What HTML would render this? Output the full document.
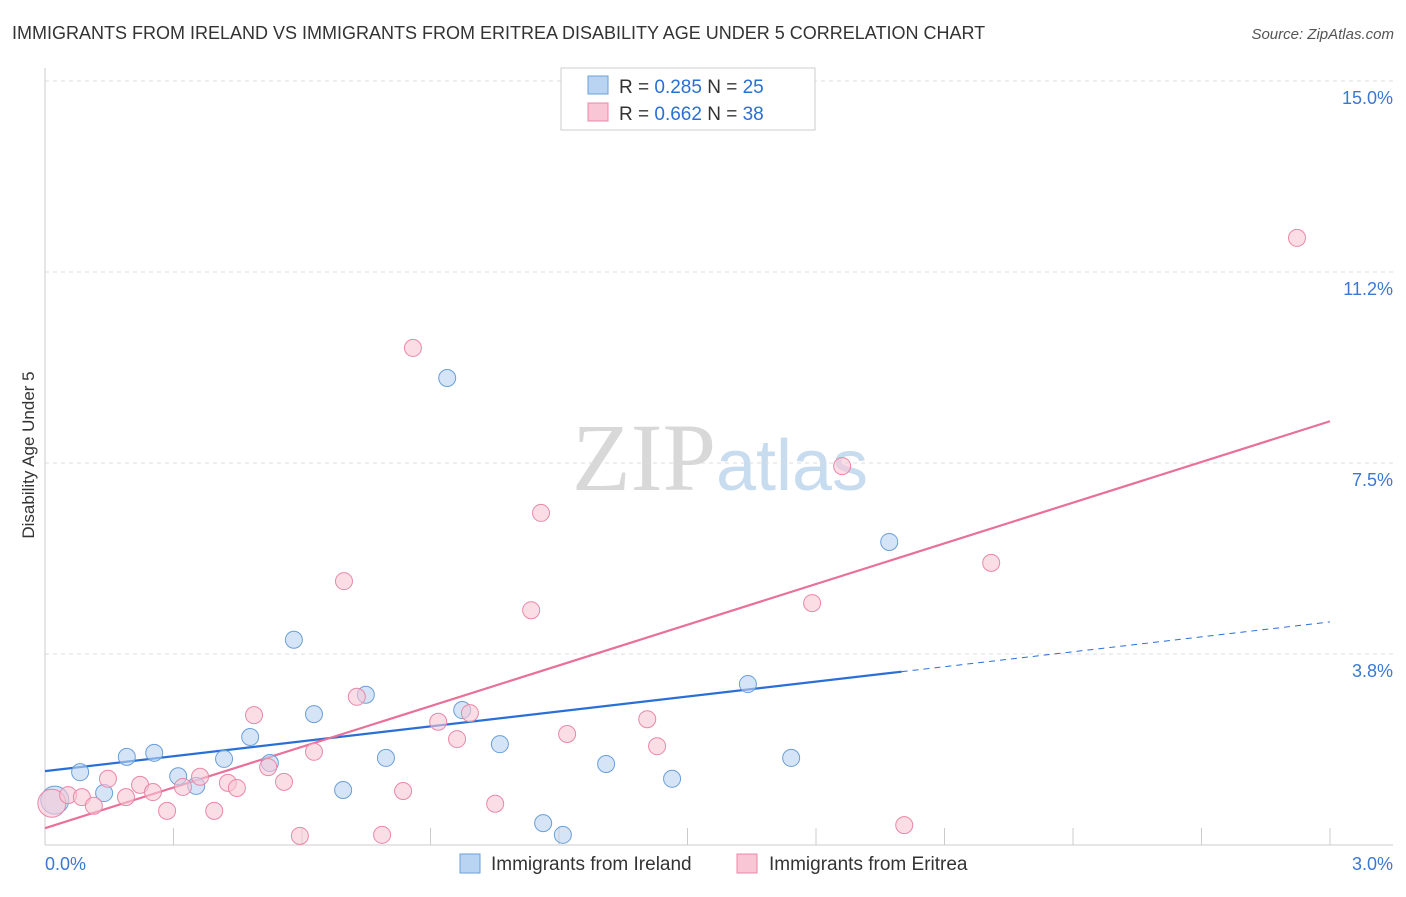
<!DOCTYPE html>
<html><head><meta charset="utf-8"><style>
body{margin:0;background:#fff;font-family:"Liberation Sans",sans-serif;}
svg text{font-family:"Liberation Sans",sans-serif;}
</style></head><body>
<svg id="chart" width="1406" height="892" viewBox="0 0 1406 892">
<text x="12" y="39" font-size="18" fill="#333">IMMIGRANTS FROM IRELAND VS IMMIGRANTS FROM ERITREA DISABILITY AGE UNDER 5 CORRELATION CHART</text>
<text x="1394" y="39" font-size="15" fill="#555" text-anchor="end" font-style="italic">Source: ZipAtlas.com</text>
<text x="720" y="490" font-size="96" text-anchor="middle"><tspan fill="#d8d8d8" font-family="Liberation Serif">ZIP</tspan><tspan fill="#c8dcf0" font-size="72">atlas</tspan></text>
<text transform="translate(34,455) rotate(-90)" font-size="17" fill="#333" text-anchor="middle">Disability Age Under 5</text>
<g id="grid"></g><g id="axes"></g><g id="lines"></g><g id="pts"></g>
<g>
<rect x="561" y="68" width="254" height="62" fill="#fff" stroke="#ccc"/>
<rect x="588" y="76" width="20" height="18" fill="#b9d4f2" stroke="#6a9fd8"/>
<rect x="588" y="103" width="20" height="18" fill="#f9c6d5" stroke="#e888a8"/>
<text x="619" y="93" font-size="19" fill="#333">R = <tspan fill="#2a6fd6">0.285</tspan>   N = <tspan fill="#2a6fd6">25</tspan></text>
<text x="619" y="120" font-size="19" fill="#333">R = <tspan fill="#2a6fd6">0.662</tspan>   N = <tspan fill="#2a6fd6">38</tspan></text>
</g>
<g>
<rect x="460" y="854" width="20" height="19" fill="#b9d4f2" stroke="#6a9fd8"/>
<text x="491" y="870" font-size="19" fill="#333">Immigrants from Ireland</text>
<rect x="737" y="854" width="20" height="19" fill="#f9c6d5" stroke="#e888a8"/>
<text x="769" y="870" font-size="19" fill="#333">Immigrants from Eritrea</text>
</g>
</svg>
<script>
const yTicks=[3.75,7.5,11.25,15.0];
const yTickLabels=["3.8%","7.5%","11.2%","15.0%"];
const xTicks=[0.3,0.6,0.9,1.2,1.5,1.8,2.1,2.4,2.7,3.0];
const irelandX=[0.023,0.082,0.138,0.191,0.255,0.311,0.353,0.418,0.479,0.525,0.581,0.628,0.696,0.749,0.796,0.939,0.974,1.062,1.163,1.209,1.31,1.464,1.641,1.742,1.971];
const irelandY=[0.88,1.43,1.02,1.73,1.81,1.35,1.16,1.69,2.12,1.61,4.03,2.57,1.08,2.95,1.71,9.17,2.65,1.98,0.43,0.20,1.59,1.30,3.16,1.71,5.95];
const eritreaX=[0.016,0.054,0.086,0.114,0.147,0.189,0.222,0.252,0.285,0.322,0.362,0.395,0.427,0.448,0.488,0.521,0.558,0.595,0.628,0.698,0.728,0.787,0.836,0.859,0.918,0.962,0.992,1.051,1.135,1.158,1.219,1.406,1.429,1.791,1.861,2.006,2.209,2.923];
const eritreaY=[0.82,0.98,0.94,0.77,1.30,0.94,1.18,1.04,0.67,1.14,1.34,0.67,1.22,1.12,2.55,1.53,1.24,0.18,1.83,5.18,2.91,0.20,1.06,9.76,2.42,2.08,2.59,0.81,4.61,6.52,2.18,2.47,1.94,4.75,7.44,0.39,5.54,11.92];
const irelandTrend=[1.45,4.38]; // y at x=0 and x=3
const eritreaTrend=[0.33,8.32];
const irelandSolidEnd=2.0;
const NS="http://www.w3.org/2000/svg";
const X=v=>45+v*428.33, Y=v=>845-v*50.93;
function mk(p,t,a){const e=document.createElementNS(NS,t);for(const k in a)e.setAttribute(k,a[k]);document.getElementById(p).appendChild(e);return e;}
yTicks.forEach((t,i)=>{
 const g=mk('grid','line',{x1:45,x2:1393,y1:Y(t),y2:Y(t),stroke:'#ddd','stroke-dasharray':'4,4'});
 
 
 const l=mk('grid','text',{x:1393,y:Y(t)+23,'font-size':18,fill:'#3a78d4','text-anchor':'end'});
 l.textContent=yTickLabels[i];
 
 
});
const ya=mk('axes','line',{x1:45,x2:45,y1:68,y2:845,stroke:'#ccc'});


const xa=mk('axes','line',{x1:45,x2:1393,y1:845,y2:845,stroke:'#ccc'});


xTicks.forEach(t=>{const k=mk('axes','line',{x1:X(t),x2:X(t),y1:828,y2:845,stroke:'#ccc'});
 
 });
const x0=mk('axes','text',{x:45,y:870,'font-size':18,fill:'#3a78d4'});x0.textContent='0.0%';


const x1=mk('axes','text',{x:1393,y:870,'font-size':18,fill:'#3a78d4','text-anchor':'end'});x1.textContent='3.0%';


function pts(xs,ys,fill,stroke,name){xs.forEach((x,i)=>{const c=mk('pts','circle',{cx:X(x),cy:Y(ys[i]),r:i===0?14:8.5,fill:fill,'fill-opacity':0.6,stroke:stroke,'stroke-width':1});
 
 });}
pts(irelandX,irelandY,'#b9d4f2','#6a9fd8','ireland-point');
pts(eritreaX,eritreaY,'#f9c6d5','#e888a8','eritrea-point');
const ti=v=>irelandTrend[0]+(irelandTrend[1]-irelandTrend[0])*v/3;
const te=v=>eritreaTrend[0]+(eritreaTrend[1]-eritreaTrend[0])*v/3;
const l1=mk('lines','line',{x1:X(0),y1:Y(ti(0)),x2:X(irelandSolidEnd),y2:Y(ti(irelandSolidEnd)),stroke:'#2a6fd6','stroke-width':2.2});


const l2=mk('lines','line',{x1:X(irelandSolidEnd),y1:Y(ti(irelandSolidEnd)),x2:X(3),y2:Y(ti(3)),stroke:'#2a6fd6','stroke-width':1,'stroke-dasharray':'6,5'});


const l3=mk('lines','line',{x1:X(0),y1:Y(te(0)),x2:X(3),y2:Y(te(3)),stroke:'#e8709a','stroke-width':2.2});


</script>
</body></html>
